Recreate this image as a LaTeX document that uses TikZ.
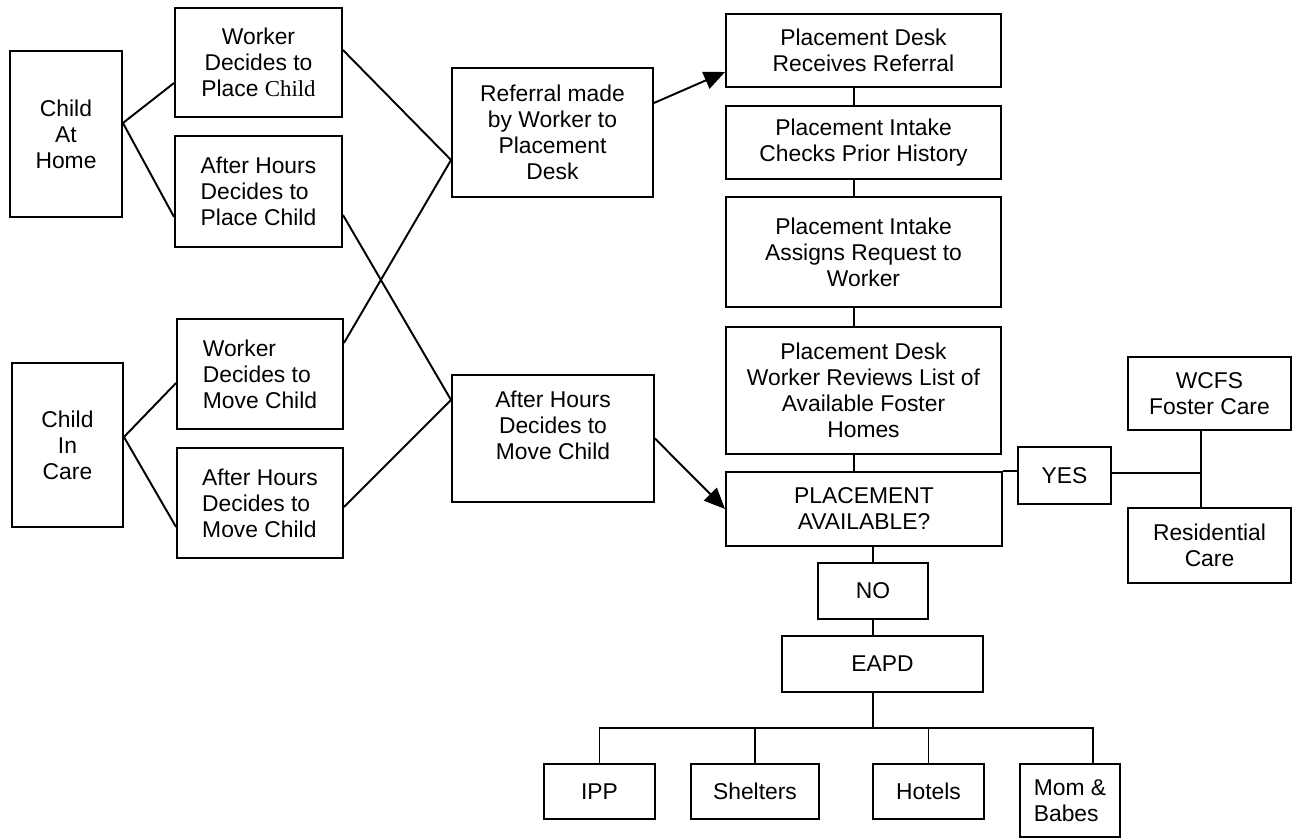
\documentclass[tikz,border=0pt]{standalone}
\usepackage{fontspec}
\setmainfont{Liberation Sans}
\newfontfamily\timesf{Liberation Serif}
\usetikzlibrary{arrows.meta}
\tikzset{
  caja/.style={draw, line width=1.1pt, inner sep=0pt, align=center, font=\fontsize{13}{14.8}\selectfont},
  cajaiz/.style={caja, align=left},
  linea/.style={line width=1.1pt},
  flecha/.style={linea, -{Triangle[length=0.42cm,width=0.36cm]}}
}
\begin{document}
\begin{tikzpicture}[x=0.02cm,y=-0.02cm]
\useasboundingbox (0,0) rectangle (1296,838);
%Entradas
\node[caja, minimum width=2.24cm, minimum height=3.32cm] (home) at (66,134) {Child\\At\\Home};
\node[caja, minimum width=2.22cm, minimum height=3.28cm] (care) at (67.5,445) {Child\\In\\Care};
\node[caja, minimum width=3.34cm, minimum height=2.18cm] (wplace) at (258.5,62.5) {Worker\\Decides to\\Place {\timesf Child}};
\node[cajaiz, minimum width=3.34cm, minimum height=2.22cm] (aplace) at (258.5,191.5) {After Hours\\Decides to\\Place Child};
\node[cajaiz, minimum width=3.32cm, minimum height=2.20cm] (wmove) at (260,374) {Worker\\Decides to\\Move Child};
\node[cajaiz, minimum width=3.32cm, minimum height=2.20cm] (amove) at (260,503) {After Hours\\Decides to\\Move Child};
\node[caja, minimum width=4.02cm, minimum height=2.58cm] (referral) at (552.5,132.5) {Referral made\\by Worker to\\Placement\\Desk};
\node[caja, minimum width=4.04cm, minimum height=2.54cm] (ahmove) at (553,438.5) {After Hours\\Decides to\\Move Child\\\mbox{}};
%Columna central
\node[caja, minimum width=5.50cm, minimum height=1.46cm] (receives) at (863.5,50.5) {Placement Desk\\Receives Referral};
\node[caja, minimum width=5.50cm, minimum height=1.46cm] (checks) at (863.5,142.5) {Placement Intake\\Checks Prior History};
\node[caja, minimum width=5.50cm, minimum height=2.20cm] (assigns) at (863.5,252) {Placement Intake\\Assigns Request to\\Worker};
\node[caja, minimum width=5.50cm, minimum height=2.54cm] (reviews) at (863.5,390.5) {Placement Desk\\Worker Reviews List of\\Available Foster\\Homes};
\node[caja, minimum width=5.52cm, minimum height=1.48cm] (avail) at (864,509) {PLACEMENT\\AVAILABLE?};
%Si
\node[caja, minimum width=1.86cm, minimum height=1.14cm] (yes) at (1064.5,475.5) {YES};
\node[caja, minimum width=3.26cm, minimum height=1.46cm] (wcfs) at (1209.5,393.5) {WCFS\\Foster Care};
\node[caja, minimum width=3.26cm, minimum height=1.50cm] (resid) at (1209.5,545.5) {Residential\\Care};
%No
\node[caja, minimum width=2.20cm, minimum height=1.12cm] (no) at (873,591) {NO};
\node[caja, minimum width=4.02cm, minimum height=1.12cm] (eapd) at (882.5,664) {EAPD};
\node[caja, minimum width=2.22cm, minimum height=1.10cm] (ipp) at (599.5,791.5) {IPP};
\node[caja, minimum width=2.56cm, minimum height=1.10cm] (shelters) at (755,791.5) {Shelters};
\node[caja, minimum width=2.22cm, minimum height=1.10cm] (hotels) at (928.5,791.5) {Hotels};
\node[cajaiz, minimum width=2.00cm, minimum height=1.46cm] (mom) at (1070,800.5) {Mom \&\\Babes};
%Lineas izquierda
\draw[linea] ([yshift=0.22cm]home.east) -- ([yshift=-0.41cm]wplace.west);
\draw[linea] ([yshift=0.22cm]home.east) -- ([yshift=-0.51cm]aplace.west);
\draw[linea] ([yshift=0.16cm]care.east) -- ([yshift=-0.18cm]wmove.west);
\draw[linea] ([yshift=0.16cm]care.east) -- ([yshift=-0.48cm]amove.west);
\draw[linea] ([yshift=0.25cm]wplace.east) -- ([yshift=-0.55cm]referral.west);
\draw[linea] ([yshift=0.62cm]wmove.east) -- ([yshift=-0.55cm]referral.west);
\draw[linea] ([yshift=-0.47cm]aplace.east) -- ([yshift=0.77cm]ahmove.west);
\draw[linea] ([yshift=-0.08cm]amove.east) -- ([yshift=0.77cm]ahmove.west);
%Flechas
\draw[flecha] ([yshift=0.59cm]referral.east) -- ([yshift=-0.43cm]receives.west);
\draw[flecha] (ahmove.east) -- (avail.west);
%Columna
\coordinate (eje) at (854,0);
\draw[linea] (receives.south -| eje) -- (checks.north -| eje);
\draw[linea] (checks.south -| eje) -- (assigns.north -| eje);
\draw[linea] (assigns.south -| eje) -- (reviews.north -| eje);
\draw[linea] (reviews.south -| eje) -- (avail.north -| eje);
%Rama si
\coordinate (rama) at (1201,473);
\draw[linea] (avail.north east) -- (avail.north east -| yes.west);
\draw[linea] (yes.east |- rama) -- (rama);
\draw[linea] (wcfs.south -| rama) -- (resid.north -| rama);
%Rama no
\coordinate (barra) at (1093,728);
\draw[linea] (avail.south -| no) -- (no.north);
\draw[linea] (no.south) -- (no.south |- eapd.north);
\draw[linea] (eapd.south -| no) -- (no |- barra);
\draw[linea] (ipp.north) -- (ipp.north |- barra) -- (barra) -- (barra |- mom.north);
\draw[linea] (shelters.north) -- (shelters.north |- barra);
\draw[linea] (hotels.north) -- (hotels.north |- barra);
\end{tikzpicture}
\end{document}
